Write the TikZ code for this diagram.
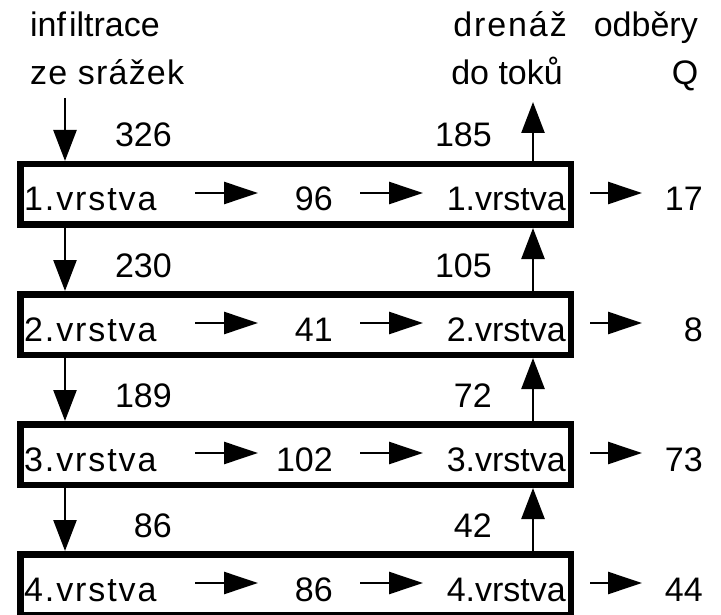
\documentclass[tikz,border=0pt]{standalone}
\usepackage{fontspec}
\setmainfont{Liberation Sans}
\usetikzlibrary{arrows.meta,calc}
\newcommand{\ks}{\kern1.9pt}
\begin{document}
\begin{tikzpicture}[x=1pt,y=-1pt,
  lbl/.style={inner sep=0pt,font=\fontsize{34}{40}\selectfont},
  layer/.style={draw,line width=6.5pt,inner sep=0pt,minimum width=550.5pt,minimum height=60.5pt},
  hflow/.style={line width=2.5pt,-{Triangle[length=34pt,width=22pt]}},
  vflow/.style={line width=2.5pt,-{Triangle[length=31pt,width=23pt]}}]
\clip (0,0) rectangle (721,615);
% headers
\node[lbl,anchor=base west] (h1) at (30,37) {inf\kern3pt iltrace};
\node[lbl,anchor=base west] (h2) at (30,85) {z\kern1.2pt e\kern1.2pt{} s\kern1.2pt r\kern1.2pt á\kern1.2pt ž\kern1.2pt e\kern1.2pt k};
\node[lbl,anchor=base east] (h3) at (567,37) {d\ks r\ks e\ks n\ks á\ks ž};
\node[lbl,anchor=base east] (h4) at (563,85) {do toků};
\node[lbl,anchor=base east] (h5) at (698,37) {odběry};
\node[lbl,anchor=base] (h6) at (685,85) {Q};
% layers
\foreach \i/\m/\o in {1/96/17,2/41/8,3/102/73,4/86/44}{
  \node[layer] (box\i) at (295.5,{194.5+130*(\i-1)}) {};
  \node[lbl,anchor=base west] (L\i) at (24,{211+130*(\i-1)}) {\i\ks.\ks v\ks r\ks s\ks t\ks v\ks a};
  \node[lbl,anchor=base east] (R\i) at (566,{211+130*(\i-1)}) {\i.vrstva};
  \node[lbl,anchor=base east] (M\i) at (333,{211+130*(\i-1)}) {\m};
  \node[lbl,anchor=base east] (O\i) at (703,{211+130*(\i-1)}) {\o};
  \coordinate (a\i) at (195,{193+130*(\i-1)});
  \coordinate (b\i) at (258,{193+130*(\i-1)});
  \coordinate (c\i) at (360,{193+130*(\i-1)});
  \coordinate (d\i) at (423,{193+130*(\i-1)});
  \coordinate (e\i) at (590,{193+130*(\i-1)});
  \coordinate (f\i) at (642,{193+130*(\i-1)});
  \draw[hflow] (a\i) -- (b\i);
  \draw[hflow] (c\i) -- (d\i);
  \draw[hflow] (e\i) -- (f\i);
}
% inter-layer numbers
\foreach \i/\n/\u in {1/326/185,2/230/105,3/189/72,4/86/42}{
  \node[lbl,anchor=base east] (n\i) at (172,{147+130*(\i-1)}) {\n};
  \node[lbl,anchor=base east] (u\i) at (492,{147+130*(\i-1)}) {\u};
}
% vertical flows
\coordinate (inf) at (65,98);
\coordinate (dren) at (533,102);
\draw[vflow] (inf) -- (inf |- box1.north);
\draw[vflow] (box1.north -| dren) -- (dren);
\foreach \i [evaluate=\i as \j using int(\i+1)] in {1,2,3}{
  \draw[vflow] (box\i.south -| inf) -- (box\j.north -| inf);
  \draw[vflow] (box\j.north -| dren) -- (box\i.south -| dren);
}
\end{tikzpicture}
\end{document}
